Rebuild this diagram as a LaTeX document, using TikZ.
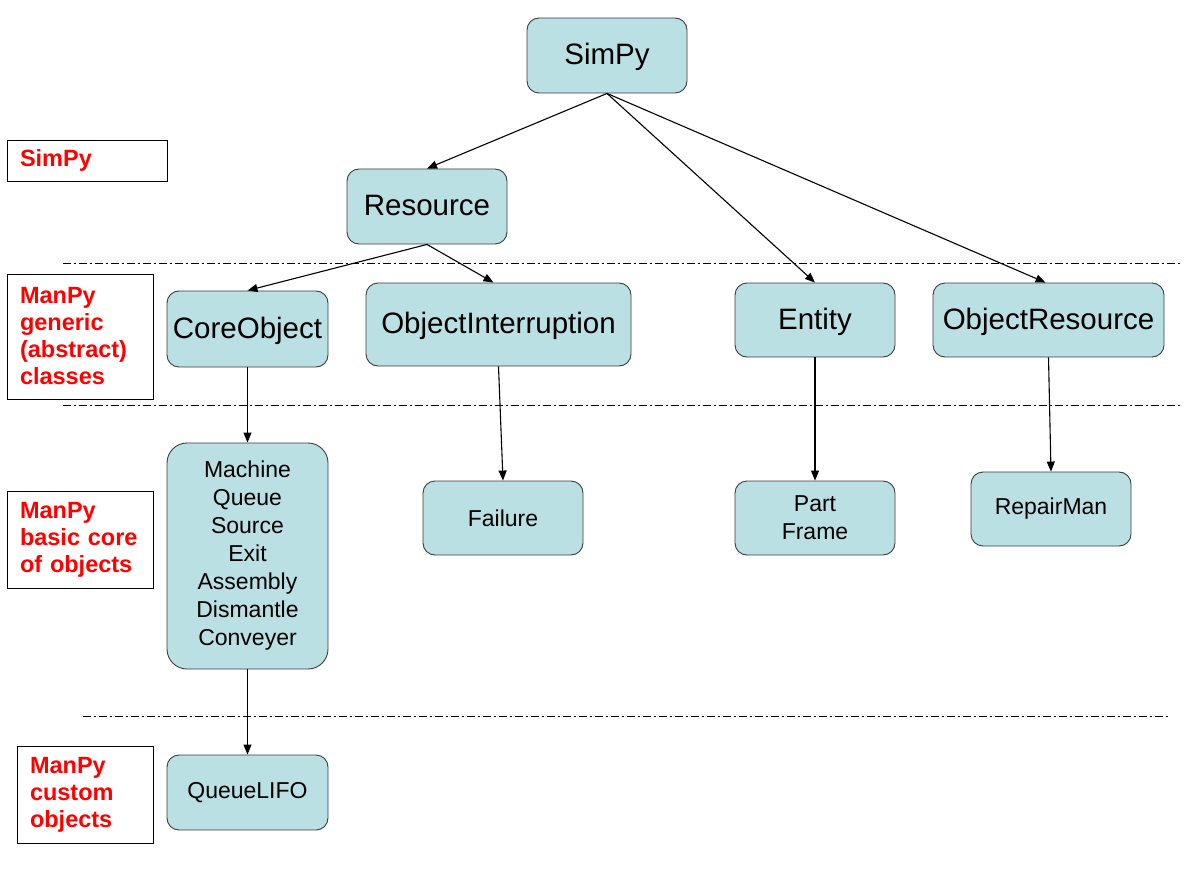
\documentclass[tikz,border=0pt]{standalone}
\usepackage{fontspec}
\setmainfont{Liberation Sans}
\usetikzlibrary{arrows.meta}
\definecolor{boxfill}{RGB}{187,224,227}
\definecolor{boxline}{RGB}{60,60,60}
\begin{document}
\begin{tikzpicture}[x=1pt,y=-1pt,
    basebox/.style={draw=boxline,fill=boxfill,line width=0.9pt,rounded corners=12pt,
      inner sep=0pt,minimum width=160pt,minimum height=75pt,align=center},
    klass/.style={basebox,text height=24pt,text depth=6pt,
      font=\fontsize{29.5}{35}\selectfont},
    smallklass/.style={basebox,font=\fontsize{23}{28}\selectfont},
    layer/.style={draw=black,line width=0.9pt,inner sep=0pt,align=left,
      text=red,font=\fontsize{23.5}{27}\selectfont\bfseries},
    link/.style={line width=1.1pt,-{Triangle[length=10pt,width=8pt]}},
    sep/.style={line width=0.9pt,dash pattern=on 8pt off 3pt on 2pt off 3pt}]
  \useasboundingbox (0,0) rectangle (1185,893);
  % layer separators
  \draw[sep] (63,263) -- (1180,263);
  \draw[sep] (63,405) -- (1180,405);
  \draw[sep] (83,716) -- (1170,716);
  % layer labels
  \node[layer,minimum width=160pt,minimum height=41pt,text width=134pt] (lsimpy) at (87,160.5) {SimPy};
  \node[layer,minimum width=146pt,minimum height=125pt,text width=120pt] (lgeneric) at (80,336.5) {ManPy\\generic\\(abstract)\\classes};
  \node[layer,minimum width=146pt,minimum height=97pt,text width=120pt] (lbasic) at (80,539.5) {ManPy\\basic core\\of objects};
  \node[layer,minimum width=136pt,minimum height=97pt,text width=110pt] (lcustom) at (85,794.5) {ManPy\\custom\\objects};
  % classes
  \node[klass] (simpy) at (607,55.5) {SimPy};
  \node[klass] (resource) at (427,206.5) {Resource};
  \node[klass,minimum width=161pt,minimum height=76pt] (coreobj) at (247.5,329) {CoreObject};
  \node[klass,minimum width=265pt,minimum height=83pt] (objint) at (498.5,324.5) {ObjectInterruption};
  \node[klass,minimum height=74pt] (entity) at (815,320) {Entity};
  \node[klass,minimum width=231pt,minimum height=74pt] (objres) at (1048.5,320) {ObjectResource};
  \node[smallklass,minimum width=161pt,minimum height=226pt,rounded corners=20pt] (basic) at (247.5,556)
    {Machine\\Queue\\Source\\Exit\\Assembly\\Dismantle\\Conveyer};
  \node[smallklass,minimum height=74pt] (failure) at (503,518) {Failure};
  \node[smallklass,minimum height=74pt] (partframe) at (815,518) {Part\\Frame};
  \node[smallklass,minimum height=74pt] (repairman) at (1051,509) {RepairMan};
  \node[smallklass,minimum width=161pt] (queuelifo) at (247.5,792.5) {QueueLIFO};
  % inheritance
  \draw[link] (simpy.south) -- (resource.north);
  \draw[link] (simpy.south) -- (entity.north);
  \draw[link] (simpy.south) -- ([xshift=-3pt]objres.north);
  \draw[link] (resource.south) -- (coreobj.north);
  \draw[link] (resource.south) -- ([xshift=-5pt]objint.north);
  \draw[link] (coreobj.south) -- (basic.north);
  \draw[link] (objint.south) -- (failure.north);
  \draw[link] (entity.south) -- (partframe.north);
  \draw[link] (objres.south) -- (repairman.north);
  \draw[link] (basic.south) -- (queuelifo.north);
\end{tikzpicture}
\end{document}
